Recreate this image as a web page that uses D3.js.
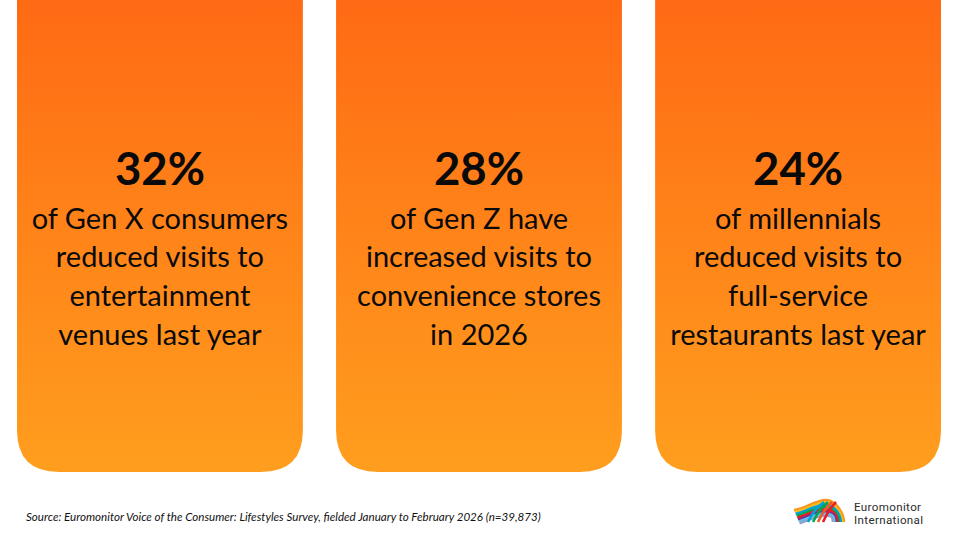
<!DOCTYPE html>
<html><head><meta charset="utf-8">
<script src="https://cdn.jsdelivr.net/npm/d3@7"></script>
<style>html,body{margin:0;padding:0;background:#fff;}svg{display:block;}</style>
</head><body>
<svg id="c" width="960" height="540"></svg>
<script>
const categories = ["Gen X", "Gen Z", "Millennials"];
const values = [32, 28, 24];
const descriptions = [
  ["of Gen X consumers", "reduced visits to", "entertainment", "venues last year"],
  ["of Gen Z have", "increased visits to", "convenience stores", "in 2026"],
  ["of millennials", "reduced visits to", "full-service", "restaurants last year"]
];
const sourceText = "Source: Euromonitor Voice of the Consumer: Lifestyles Survey, fielded January to February 2026 (n=39,873)";
const logoLines = ["Euromonitor", "International"];

const svg = d3.select("#c");
const defs = svg.append("defs");
const grad = defs.append("linearGradient").attr("id", "g").attr("x1", 0).attr("y1", 0).attr("x2", 0).attr("y2", 1);
grad.append("stop").attr("offset", "0%").attr("stop-color", "#FF6914");
grad.append("stop").attr("offset", "100%").attr("stop-color", "#FF9E1E");

const x = d3.scaleBand().domain(categories).range([17, 941]).paddingInner(0.104).paddingOuter(0);
const cardTop = -10, cardBottom = 472, rad = 42;

function cardPath(x0, w) {
  const x1 = x0 + w;
  return `M${x0},${cardTop} L${x1},${cardTop} L${x1},${cardBottom - rad} Q${x1},${cardBottom} ${x1 - rad},${cardBottom} L${x0 + rad},${cardBottom} Q${x0},${cardBottom} ${x0},${cardBottom - rad} Z`;
}

const g = svg.selectAll("g.card").data(categories).join("g").attr("class", "card");
g.append("path")
  .attr("d", d => cardPath(x(d), x.bandwidth()))
  .attr("fill", "url(#g)");

g.append("text")
  .attr("x", d => x(d) + x.bandwidth() / 2)
  .attr("y", 185)
  .attr("text-anchor", "middle")
  .attr("font-family", "Lato, 'Open Sans', sans-serif")
  .attr("font-weight", "bold")
  .attr("font-size", 45.5)
  .attr("fill", "#0a0a0a")
  .text((d, i) => values[i] + "%");

g.each(function(d, i) {
  const sel = d3.select(this);
  descriptions[i].forEach((line, j) => {
    sel.append("text")
      .attr("x", x(d) + x.bandwidth() / 2)
      .attr("y", 228.5 + j * 38.7)
      .attr("text-anchor", "middle")
      .attr("font-family", "Lato, 'Open Sans', sans-serif")
      .attr("font-size", 29)
      .attr("fill", "#0a0a0a")
      .text(line);
  });
});

svg.append("text")
  .attr("x", 26).attr("y", 521)
  .attr("font-family", "Lato, 'Open Sans', sans-serif")
  .attr("font-style", "italic")
  .attr("font-size", 11.6)
  .attr("fill", "#111")
  .text(sourceText);

// Logo
const logo = svg.append("g").attr("transform", "translate(794,499)");
const stripeColors = ["#F7941D", "#FDB913", "#00A0DC", "#00A651", "#ED1C24", "#7B2D8E", "#5BC5F2", "#8FA3C8"];
stripeColors.forEach((c, i) => {
  const sy = 11 + i * 1.9;
  const ay = 1 + i * 2.3;
  const ex = 50 - i * 1.6;
  const ey = 23;
  logo.append("path")
    .attr("d", `M${i * 0.8},${sy} C${12},${sy - 2} ${22},${ay} ${32 - i * 0.5},${ay} C${42 - i},${ay} ${ex},${ey - 8} ${ex},${ey}`)
    .attr("fill", "none")
    .attr("stroke", c)
    .attr("stroke-width", 2.4);
});
const diagColors = ["#00A0DC", "#00A651", "#F15A29", "#ED1C24"];
diagColors.forEach((c, k) => {
  logo.append("path")
    .attr("d", `M${14 + k * 5},${23} Q${20 + k * 5},${10} ${30 + k * 4},${3}`)
    .attr("fill", "none")
    .attr("stroke", c)
    .attr("stroke-width", 2.6);
});
const lt = svg.append("text")
  .attr("font-family", "Roboto, 'Open Sans', sans-serif").attr("font-size", 11.6)
  .attr("letter-spacing", 0.35).attr("fill", "#2b2b2b");
logoLines.forEach((s, i) => {
  lt.append("tspan").attr("x", 854).attr("y", 510.5 + i * 13.5).text(s);
});
</script>
</body></html>
